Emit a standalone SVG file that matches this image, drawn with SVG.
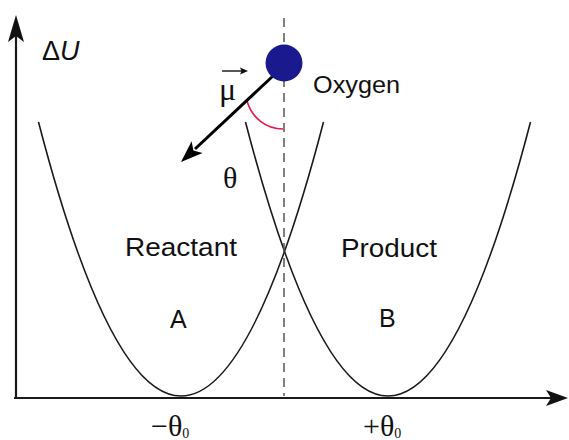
<svg xmlns="http://www.w3.org/2000/svg" width="569" height="440" viewBox="0 0 569 440">
<style>
.curve{fill:none;stroke:#1a1a1a;stroke-width:1.6}
.axis{fill:none;stroke:#1a1a1a;stroke-width:2.2}
.sans{font-family:"Liberation Sans",Arial,sans-serif;fill:#111}
.serif{font-family:"Liberation Serif","Times New Roman",serif;fill:#111}
</style>
<rect width="569" height="440" fill="#fff"/>
<g id="axes">
<line class="axis" x1="16" y1="398" x2="16" y2="30"/>
<path d="M16,15 L24,42 L16,36 L8,42 Z" fill="#111"/>
<line class="axis" x1="14" y1="398" x2="555" y2="398"/>
<path d="M568,398 L546,406 L551,398 L546,390 Z" fill="#111"/>
</g>
<g id="curves">
<path class="curve" d="M38.5,122 Q181,670 323.5,122"/>
<path class="curve" d="M245.5,122 Q388,670 530.5,122"/>
<line x1="284" y1="18" x2="284" y2="396" stroke="#555" stroke-width="1.5" stroke-dasharray="9,6"/>
</g>
<g id="dipole">
<path d="M247,101 C252,118 266,129 283,129" fill="none" stroke="#e8174a" stroke-width="1.6"/>
<line x1="274" y1="75" x2="195" y2="149" stroke="#000" stroke-width="3"/>
<path d="M181,162 L202.6,152.9 L193.4,150.4 L191.6,141.2 Z" fill="#000"/>
<ellipse cx="284" cy="63" rx="18.5" ry="18.5" fill="#1a1a8e"/>
</g>
<g id="labels">
<text class="sans" x="42" y="60" font-size="27">Δ<tspan font-style="italic">U</tspan></text>
<text class="serif" x="219" y="100" font-size="32">μ</text>
<line x1="222" y1="71" x2="242" y2="71" stroke="#111" stroke-width="1.4"/>
<path d="M248,71 L240,67.5 L241.5,71 L240,74.5 Z" fill="#111"/>
<text class="serif" x="223" y="188" font-size="30">θ</text>
<text class="sans" x="313" y="93" font-size="23" textLength="87" lengthAdjust="spacingAndGlyphs">Oxygen</text>
<text class="sans" x="125" y="256" font-size="25" textLength="112" lengthAdjust="spacingAndGlyphs">Reactant</text>
<text class="sans" x="341" y="257" font-size="25" textLength="96" lengthAdjust="spacingAndGlyphs">Product</text>
<text class="sans" x="170" y="328" font-size="25">A</text>
<text class="sans" x="379" y="327" font-size="25">B</text>
<text class="serif" x="151" y="436" font-size="30">−θ<tspan font-size="14" dy="2">0</tspan></text>
<text class="serif" x="363" y="436" font-size="30">+θ<tspan font-size="14" dy="2">0</tspan></text>
</g>
</svg>
